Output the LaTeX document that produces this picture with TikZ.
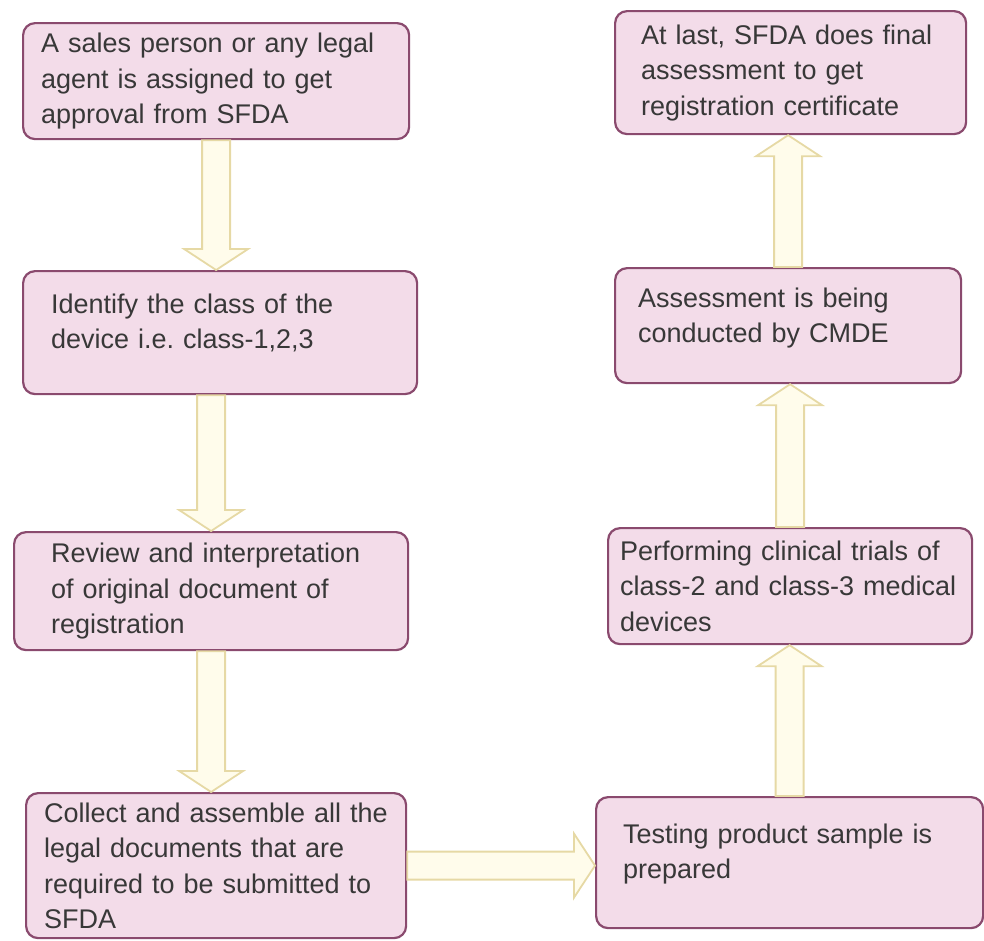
\documentclass[tikz,border=0pt]{standalone}
\usepackage{fontspec}
\setmainfont{Liberation Sans}
\usepackage{tikz}
\usetikzlibrary{calc,positioning}
\frenchspacing

\definecolor{stagefill}{HTML}{F3DCE9}
\definecolor{stageline}{HTML}{8A4A6E}
\definecolor{flowfill}{HTML}{FFFCEB}
\definecolor{flowline}{HTML}{E6D9A5}
\definecolor{stagetext}{HTML}{383838}

% hollow block arrow from #1 to #2
\newcommand{\flowarrow}[2]{%
  \coordinate (hb) at ($(#2)!21pt!(#1)$);
  \draw[flow] ($(#1)!14pt!90:(#2)$) -- ($(hb)!14pt!90:(#2)$) -- ($(hb)!32pt!90:(#2)$)
    -- (#2) -- ($(hb)!32pt!-90:(#2)$) -- ($(hb)!14pt!-90:(#2)$) -- ($(#1)!14pt!-90:(#2)$) -- cycle;}

\begin{document}
\begin{tikzpicture}[x=1pt, y=-1pt,
  stage/.style={draw=stageline, fill=stagefill, line width=2.2pt, rounded corners=12pt,
    anchor=north west, align=left, text=stagetext, inner ysep=4pt,
    font=\fontsize{27}{35.5}\selectfont},
  flow/.style={draw=flowline, fill=flowfill, line width=1.8pt, line join=miter}]
\useasboundingbox (0,0) rectangle (984,940);

% left column
\node[stage, text width=350pt, inner xsep=18pt, minimum height=116pt] (assign) at (22,22)
  {A sales person or any legal\\agent is assigned to get\\approval from SFDA};
\node[stage, text width=338pt, inner xsep=28pt, minimum height=123pt, text depth=58pt] (classify) at (22,270)
  {Identify the class of the\\device i.e. class-1,2,3};
\node[stage, text width=320pt, inner xsep=37pt, minimum height=118pt] (review) at (13,531)
  {Review and interpretation\\of original document of\\registration};
\node[stage, text width=344pt, inner xsep=18pt, minimum height=145pt] (collect) at (25,792)
  {Collect and assemble all the\\legal documents that are\\required to be submitted to\\SFDA};

% right column
\node[stage, text width=333pt, inner xsep=27pt, minimum height=131pt, text depth=58pt] (testing) at (595,796)
  {Testing product sample is\\prepared};
\node[stage, text width=340pt, inner xsep=12pt, minimum height=116pt] (trials) at (607,527)
  {Performing clinical trials of\\class-2 and class-3 medical\\devices};
\node[stage, text width=300pt, inner xsep=23pt, minimum height=115pt, text depth=56pt] (assess) at (614,267)
  {Assessment is being\\conducted by CMDE};
\node[stage, text width=299pt, inner xsep=26pt, minimum height=123pt] (final) at (614,10)
  {At last, SFDA does final\\assessment to get\\registration certificate};

% arrows
\flowarrow{assign.south}{assign.south |- classify.north}
\flowarrow{classify.south -| review.north}{review.north}
\flowarrow{review.south}{review.south |- collect.north}
\flowarrow{collect.east}{collect.east -| testing.west}
\flowarrow{testing.north}{testing.north |- trials.south}
\flowarrow{trials.north}{trials.north |- assess.south}
\flowarrow{assess.north}{assess.north |- final.south}
\end{tikzpicture}
\end{document}
